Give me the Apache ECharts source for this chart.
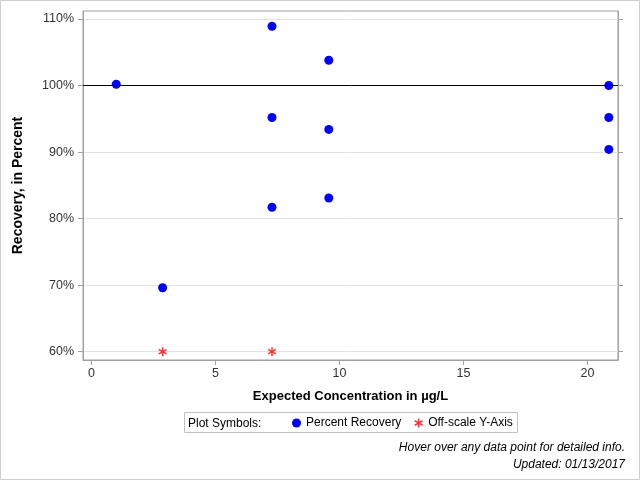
<!DOCTYPE html>
<html>
<head>
<meta charset="utf-8">
<script src="https://cdn.jsdelivr.net/npm/echarts@6/dist/echarts.min.js"></script>
<style>html,body{margin:0;padding:0;background:#fff}#main{width:640px;height:480px}</style>
</head>
<body>
<div id="main"></div>
<script>
// 数据
var concX = [1.0, 2.87, 7.28, 7.28, 7.28, 9.57, 9.57, 9.57, 20.86, 20.86, 20.86];
var recovery = [100.2, 69.6, 108.9, 95.2, 81.7, 103.8, 93.4, 83.1, 100.0, 95.2, 90.4];
var offX = [2.87, 7.28];
var offY = [60, 60];
var xTicks = [0, 5, 10, 15, 20];
var yTicks = [60, 70, 80, 90, 100, 110];

var font = '"Liberation Sans", Arial, sans-serif';
var star = 'path://M-1.6,-10L1.6,-10L1.6,10L-1.6,10Z' +
  'M-9.5,-3.6L-7.9,-6.4L9.5,3.6L7.9,6.4Z' +
  'M7.9,-6.4L9.5,-3.6L-7.9,6.4L-9.5,3.6Z';

var pts = [];
for (var i = 0; i < concX.length; i++) pts.push([concX[i], recovery[i]]);
var offPts = [];
for (var j = 0; j < offX.length; j++) offPts.push([offX[j], offY[j]]);

var myChart = echarts.init(document.getElementById('main'));
var option = {
  animation: false,
  textStyle: { fontFamily: font },
  grid: { left: 83, right: 22, top: 11, bottom: 120, show: true, borderColor: '#a0a0a0', borderWidth: 1 },
  legend: {
    left: 292, top: 417, padding: 0, itemWidth: 9, itemHeight: 9, itemGap: 13,
    textStyle: { fontFamily: font, fontSize: 12, color: '#000' },
    data: [
      { name: 'Percent Recovery', icon: 'circle' },
      { name: 'Off-scale Y-Axis', icon: star }
    ]
  },
  xAxis: {
    type: 'value', min: -0.34, max: 21.23,
    name: 'Expected Concentration in µg/L', nameLocation: 'middle', nameGap: 30,
    nameTextStyle: { fontFamily: font, fontSize: 13, fontWeight: 'bold', color: '#000' },
    axisLine: { show: true, onZero: false, lineStyle: { color: '#a0a0a0' } },
    axisTick: { show: true, length: 5, customValues: xTicks, lineStyle: { color: '#a0a0a0' } },
    axisLabel: { customValues: xTicks, color: '#333', fontSize: 12.5, margin: 7 },
    splitLine: { show: false }
  },
  yAxis: [{
    type: 'value', min: 58.75, max: 111.2,
    name: 'Recovery, in Percent', nameLocation: 'middle', nameGap: 58, nameRotate: 90,
    nameTextStyle: { fontFamily: font, fontSize: 14, fontWeight: 'bold', color: '#000' },
    axisLine: { show: true, onZero: false, lineStyle: { color: '#a0a0a0' } },
    axisTick: { show: true, length: 5, customValues: yTicks, lineStyle: { color: '#a0a0a0' } },
    axisLabel: { customValues: yTicks, formatter: '{value}%', color: '#333', fontSize: 12.5, margin: 9 },
    splitLine: { show: true, lineStyle: { color: '#e2e2e2' } }
  }, {
    type: 'value', min: 58.75, max: 111.2, position: 'right',
    axisLine: { show: true, onZero: false, lineStyle: { color: '#a0a0a0' } },
    axisTick: { show: true, length: 5, customValues: yTicks, lineStyle: { color: '#a0a0a0' } },
    axisLabel: { show: false },
    splitLine: { show: false }
  }],
  series: [{
    name: 'Percent Recovery', type: 'scatter', data: pts,
    symbol: 'circle', symbolSize: 9,
    itemStyle: { color: '#0000ff', opacity: 1 },
    markLine: {
      silent: true, symbol: 'none', label: { show: false },
      lineStyle: { color: '#000', width: 1, type: 'solid' },
      data: [{ yAxis: 100 }]
    },
    z: 3
  }, {
    name: 'Off-scale Y-Axis', type: 'scatter', data: offPts,
    symbol: star, symbolSize: 9, symbolKeepAspect: true,
    itemStyle: { color: '#ff0000' }
  }],
  graphic: [
    { type: 'rect', shape: { x: 0.5, y: 0.5, width: 639, height: 479 }, style: { fill: 'none', stroke: '#cfcfcf', lineWidth: 1 }, silent: true },
    { type: 'rect', shape: { x: 184.5, y: 412.5, width: 333, height: 20 }, style: { fill: 'none', stroke: '#c0c0c0', lineWidth: 1 }, silent: true },
    { type: 'text', x: 188, y: 424, style: { text: 'Plot Symbols:', font: '12px ' + font, fill: '#000', verticalAlign: 'middle' } },
    { type: 'text', x: 625, y: 448, style: { text: 'Hover over any data point for detailed info.', font: 'italic 12px ' + font, fill: '#000', align: 'right', verticalAlign: 'middle' } },
    { type: 'text', x: 625, y: 465, style: { text: 'Updated: 01/13/2017', font: 'italic 12px ' + font, fill: '#000', align: 'right', verticalAlign: 'middle' } }
  ]
};
myChart.setOption(option);
</script>
</body>
</html>
